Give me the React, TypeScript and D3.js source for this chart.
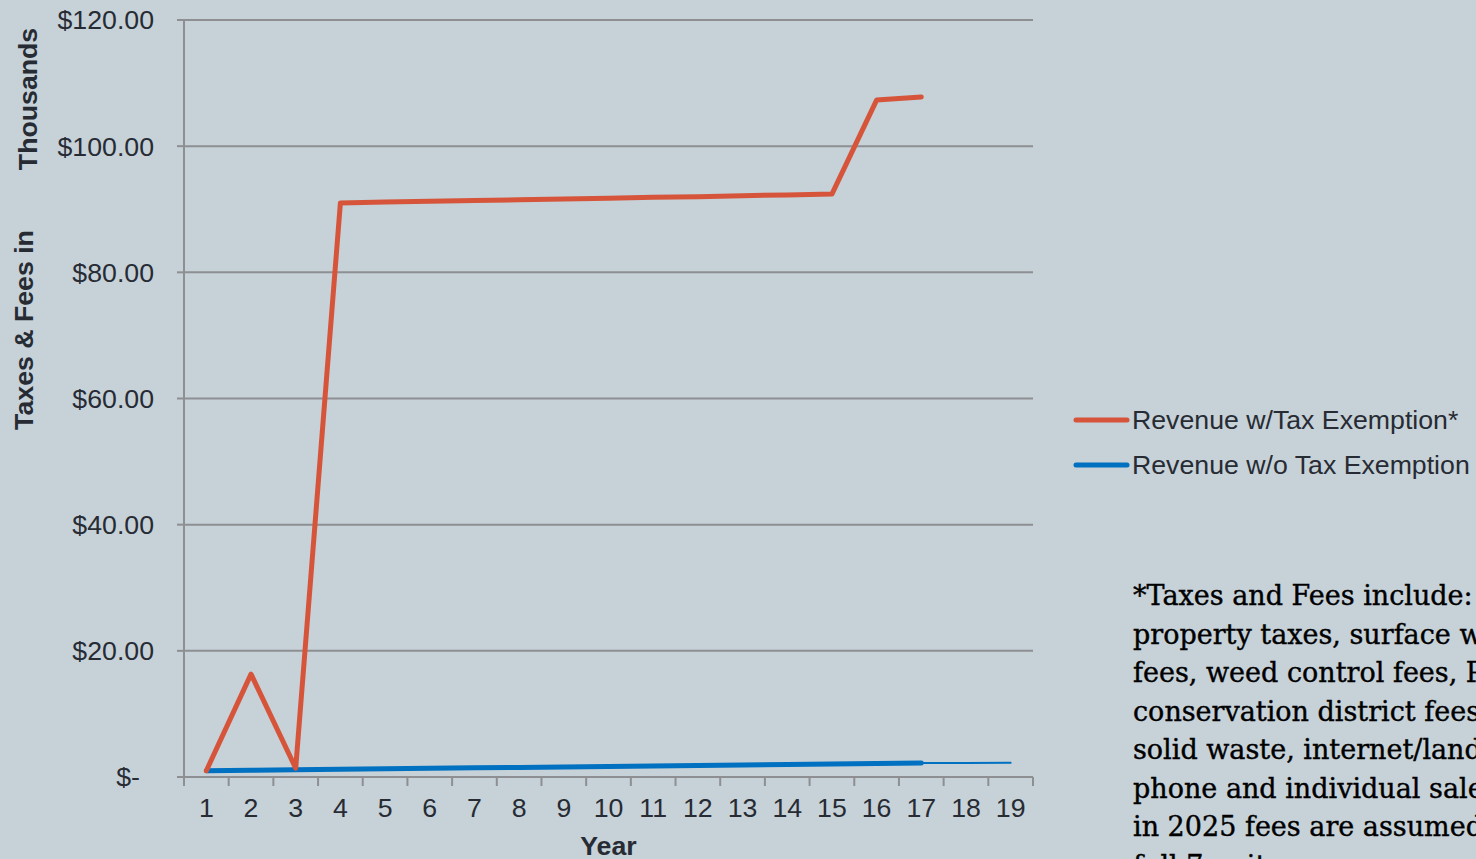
import React from "react";
import * as d3 from "d3";

const years = ["1","2","3","4","5","6","7","8","9","10","11","12","13","14","15","16","17","18","19"];
const withExemption = [1.0, 16.3, 1.4, 91.0, 91.13, 91.25, 91.38, 91.5, 91.64, 91.76, 91.9, 92.0, 92.15, 92.27, 92.4, 107.3, 107.8];
const withoutExemption = [1.0, 1.07, 1.15, 1.22, 1.3, 1.38, 1.45, 1.52, 1.6, 1.68, 1.75, 1.83, 1.9, 1.98, 2.05, 2.13, 2.2];
const withoutTail = [2.2, 2.23, 2.27];
const yTicks = [0, 20, 40, 60, 80, 100, 120];
const legendLabels = ["Revenue w/Tax Exemption*", "Revenue w/o Tax Exemption"];
const noteLines = [
  "*Taxes and Fees include:",
  "property taxes, surface water",
  "fees, weed control fees, PUD,",
  "conservation district fees,",
  "solid waste, internet/land",
  "phone and individual sales tax;",
  "in 2025 fees are assumed at",
  "full 7 units",
];

const W = 1476;
const H = 859;
const BG = "#C6D1D8";
const GRID = "#8E8F92";
const TEXT = "#272B33";
const RED = "#D6553A";
const BLUE = "#0070C0";
const SANS = "'Liberation Sans', Arial, sans-serif";
const FS = 26.7;

export default function App() {
  const left = 184, right = 1033, top = 20, bottom = 777;
  const x = d3.scaleBand<string>().domain(years).range([left, right]).paddingInner(0).paddingOuter(0);
  const cx = (i: number) => (x(years[i]) as number) + x.bandwidth() / 2;
  const y = d3.scaleLinear().domain([0, 120]).range([bottom, top]);
  const line = d3.line<number>().x((_, i) => cx(i)).y((d) => y(d));
  const tailLine = d3.line<number>().x((_, i) => cx(i + 16)).y((d) => y(d));
  const fmt = (v: number) => (v === 0 ? "$-" : "$" + d3.format(",.2f")(v));
  const boundaries = years.map((yr) => x(yr) as number).concat([right]);

  return (
    <svg width={W} height={H} style={{ position: "absolute", left: 0, top: 0, display: "block" }}>
      <rect x={0} y={0} width={W} height={H} fill={BG} />
      {yTicks.map((t) => (
        <g key={t}>
          <line x1={left} x2={right} y1={y(t)} y2={y(t)} stroke={GRID} strokeWidth={2} />
          <line x1={left - 7} x2={left} y1={y(t)} y2={y(t)} stroke={GRID} strokeWidth={2} />
          <text
            x={t === 0 ? 140 : 154}
            y={y(t)}
            dy="0.35em"
            textAnchor="end"
            fontFamily={SANS}
            fontSize={FS}
            fill={TEXT}
          >
            {fmt(t)}
          </text>
        </g>
      ))}
      <line x1={left} x2={left} y1={top} y2={bottom} stroke={GRID} strokeWidth={2} />
      {boundaries.map((b, i) => (
        <line key={i} x1={b} x2={b} y1={bottom} y2={bottom + 9} stroke={GRID} strokeWidth={2} />
      ))}
      {years.map((yr, i) => (
        <text key={yr} x={cx(i)} y={808} dy="0.35em" textAnchor="middle" fontFamily={SANS} fontSize={FS} fill={TEXT}>
          {yr}
        </text>
      ))}
      <text x={(left + right) / 2} y={846} dy="0.35em" textAnchor="middle" fontFamily={SANS} fontSize={FS} fontWeight="bold" fill={TEXT}>
        Year
      </text>
      <text transform="translate(24,330) rotate(-90)" dy="0.35em" textAnchor="middle" fontFamily={SANS} fontSize={FS} fontWeight="bold" fill={TEXT}>
        Taxes &amp; Fees in
      </text>
      <text transform="translate(28,99) rotate(-90)" dy="0.35em" textAnchor="middle" fontFamily={SANS} fontSize={FS} fontWeight="bold" fill={TEXT}>
        Thousands
      </text>

      <path d={line(withoutExemption) || ""} fill="none" stroke={BLUE} strokeWidth={5} strokeLinecap="round" strokeLinejoin="round" />
      <path d={tailLine(withoutTail) || ""} fill="none" stroke={BLUE} strokeWidth={2} strokeLinecap="round" />
      <path d={line(withExemption) || ""} fill="none" stroke={RED} strokeWidth={5} strokeLinecap="round" strokeLinejoin="round" />

      {legendLabels.map((lab, i) => (
        <g key={lab}>
          <line x1={1076} x2={1127} y1={420 + i * 45} y2={420 + i * 45} stroke={i === 0 ? RED : BLUE} strokeWidth={5} strokeLinecap="round" />
          <text x={1132} y={420 + i * 45} dy="0.35em" fontFamily={SANS} fontSize={FS} fill={TEXT}>
            {lab}
          </text>
        </g>
      ))}

      {noteLines.map((l, i) => (
        <text key={i} x={1133} y={605 + i * 38.5} fontFamily="'DejaVu Serif', serif" fontSize={27} fill="#000" stroke="#000" strokeWidth={0.4}>
          {l}
        </text>
      ))}
    </svg>
  );
}
